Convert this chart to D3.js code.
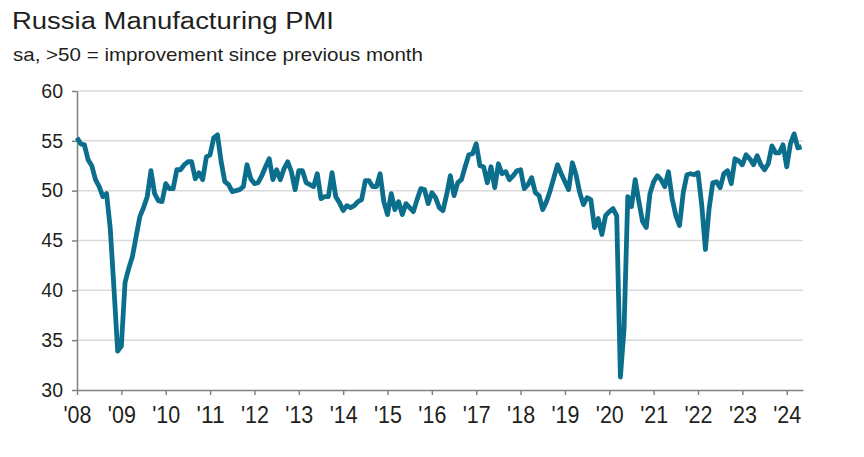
<!DOCTYPE html>
<html><head><meta charset="utf-8">
<script src="https://cdn.jsdelivr.net/npm/d3@7"></script>
<style>body{margin:0;background:#fff}svg{display:block}</style>
</head><body>
<svg id="c" width="864" height="457"></svg>
<script>
const title = "Russia Manufacturing PMI";
const subtitle = "sa, >50 = improvement since previous month";
const yearLabels = ["'08","'09","'10","'11","'12","'13","'14","'15","'16","'17","'18","'19","'20","'21","'22","'23","'24"];
const yTicks = [30, 35, 40, 45, 50, 55, 60];

const pmi2008 = [55.3, 54.7, 54.6, 53.1, 52.5, 51.1, 50.4, 49.4, 49.7, 46.2, 40.2, 33.9];
const pmi2009 = [34.4, 40.8, 42.2, 43.4, 45.4, 47.4, 48.3, 49.4, 52.0, 49.7, 49.0, 48.9];
const pmi2010 = [50.7, 50.2, 50.2, 52.1, 52.1, 52.6, 52.9, 52.9, 51.2, 51.8, 51.1, 53.4];
const pmi2011 = [53.6, 55.3, 55.6, 52.9, 50.9, 50.6, 49.9, 50.0, 50.1, 50.4, 52.6, 51.2];
const pmi2012 = [50.7, 50.8, 51.5, 52.4, 53.2, 51.1, 52.1, 51.1, 52.2, 52.9, 51.9, 50.1];
const pmi2013 = [52.0, 52.0, 50.8, 50.6, 50.4, 51.7, 49.2, 49.4, 49.4, 51.8, 49.4, 48.8];
const pmi2014 = [48.0, 48.5, 48.3, 48.5, 48.9, 49.1, 51.0, 51.0, 50.4, 50.4, 51.7, 48.9];
const pmi2015 = [47.6, 49.7, 48.1, 48.9, 47.6, 48.7, 48.3, 47.9, 49.1, 50.2, 50.1, 48.7];
const pmi2016 = [49.8, 49.3, 48.3, 48.0, 49.6, 51.5, 49.5, 50.8, 51.1, 52.4, 53.6, 53.7];
const pmi2017 = [54.7, 52.5, 52.4, 50.8, 52.4, 50.3, 52.7, 51.7, 51.9, 51.1, 51.5, 52.0];
const pmi2018 = [52.1, 50.2, 50.6, 51.3, 49.8, 49.5, 48.1, 48.9, 50.0, 51.3, 52.6, 51.7];
const pmi2019 = [50.9, 50.1, 52.8, 51.6, 49.8, 48.6, 49.3, 49.1, 46.3, 47.2, 45.6, 47.5];
const pmi2020 = [47.9, 48.2, 47.5, 31.3, 36.2, 49.4, 48.4, 51.1, 48.9, 46.9, 46.3, 49.7];
const pmi2021 = [50.9, 51.5, 51.1, 50.4, 51.9, 49.2, 47.5, 46.5, 49.8, 51.6, 51.7, 51.6];
const pmi2022 = [51.8, 48.6, 44.1, 48.2, 50.8, 50.9, 50.3, 51.7, 52.0, 50.7, 53.2, 53.0];
const pmi2023 = [52.6, 53.6, 53.2, 52.6, 53.5, 52.6, 52.1, 52.7, 54.5, 53.8, 53.8, 54.6];
const pmi2024 = [52.4, 54.7, 55.7, 54.3, 54.4];

const series = [].concat(pmi2008, pmi2009, pmi2010, pmi2011, pmi2012, pmi2013, pmi2014,
  pmi2015, pmi2016, pmi2017, pmi2018, pmi2019, pmi2020, pmi2021, pmi2022, pmi2023, pmi2024);

const svg = d3.select('#c');
const x = d3.scaleLinear().domain([0, 196.4]).range([77, 803]);
const y = d3.scaleLinear().domain([30, 60]).range([390, 91]);

svg.append('text').attr('x', 12).attr('y', 29)
  .attr('font-family', 'Liberation Sans, Arial, sans-serif').attr('font-size', 23)
  .attr('fill', '#231f20').attr('textLength', 322).attr('lengthAdjust', 'spacingAndGlyphs')
  .text(title);
svg.append('text').attr('x', 13).attr('y', 61)
  .attr('font-family', 'Liberation Sans, Arial, sans-serif').attr('font-size', 18.5)
  .attr('fill', '#231f20').attr('textLength', 410).attr('lengthAdjust', 'spacingAndGlyphs')
  .text(subtitle);

// gridlines
svg.append('g').selectAll('line').data(yTicks.filter(v => v > 30)).join('line')
  .attr('x1', x(0)).attr('x2', x.range()[1])
  .attr('y1', d => y(d)).attr('y2', d => y(d))
  .attr('stroke', '#d9d9d9').attr('stroke-width', 1.5);

// y axis
const ya = svg.append('g').attr('transform', `translate(${x(0)},0)`)
  .call(d3.axisLeft(y).tickValues(yTicks).tickSize(5).tickSizeOuter(0).tickPadding(9));
ya.select('.domain').attr('stroke', '#808080').attr('stroke-width', 1.5);
ya.selectAll('.tick line').attr('stroke', '#808080').attr('stroke-width', 1.5);
ya.selectAll('text').attr('font-family', 'Liberation Sans, Arial, sans-serif')
  .attr('font-size', 19.5).attr('fill', '#231f20');

// x axis
const xa = svg.append('g').attr('transform', `translate(0,${y(30)})`)
  .call(d3.axisBottom(x).tickValues(d3.range(0, 193, 12))
    .tickFormat((d, i) => yearLabels[i]).tickSize(5).tickSizeOuter(0));
xa.select('.domain').attr('stroke', '#808080').attr('stroke-width', 1.5);
xa.selectAll('.tick line').attr('stroke', '#808080').attr('stroke-width', 1.5);
xa.selectAll('text').attr('font-family', 'Liberation Sans, Arial, sans-serif')
  .attr('font-size', 23).attr('fill', '#231f20')
  .attr('y', 33).attr('dy', 0)
  .attr('textLength', 28).attr('lengthAdjust', 'spacingAndGlyphs');

// line
svg.append('path').datum(series)
  .attr('fill', 'none').attr('stroke', '#0b6e8c').attr('stroke-width', 4.8)
  .attr('stroke-linejoin', 'round')
  .attr('d', d3.line().x((d, i) => x(i)).y(d => y(d)));
</script>
</body></html>
